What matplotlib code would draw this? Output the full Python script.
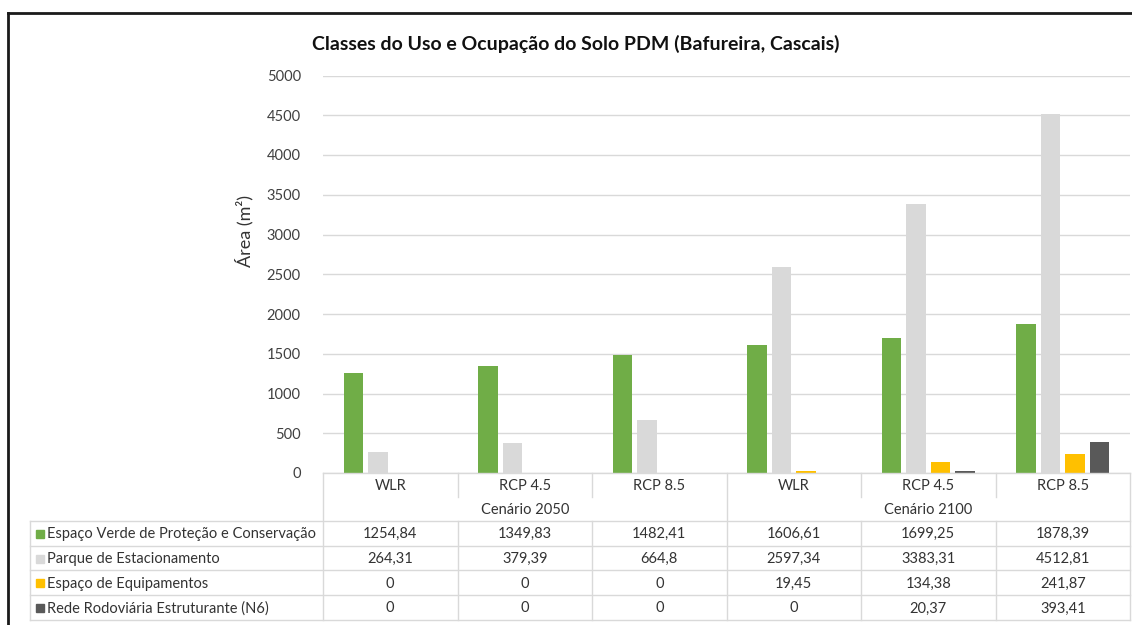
import matplotlib.pyplot as plt
import numpy as np
from matplotlib.lines import Line2D
from matplotlib.patches import Rectangle

plt.rcParams['font.family'] = ['Lato', 'DejaVu Sans']

# data
scenarios = ['WLR', 'RCP 4.5', 'RCP 8.5', 'WLR', 'RCP 4.5', 'RCP 8.5']
groups = ['Cenário 2050', 'Cenário 2100']
series = ['Espaço Verde de Proteção e Conservação', 'Parque de Estacionamento',
          'Espaço de Equipamentos', 'Rede Rodoviária Estruturante (N6)']
verde = [1254.84, 1349.83, 1482.41, 1606.61, 1699.25, 1878.39]
parque = [264.31, 379.39, 664.8, 2597.34, 3383.31, 4512.81]
equip = [0, 0, 0, 19.45, 134.38, 241.87]
rede = [0, 0, 0, 0, 20.37, 393.41]
values = [verde, parque, equip, rede]
colors = ['#70AD47', '#D9D9D9', '#FFC000', '#595959']

W, H = 1132, 625
fig = plt.figure(figsize=(W / 100, H / 100), dpi=100)

# plot area in pixels
x0, x1, ytop, ybot = 323, 1130, 75.5, 473
ax = fig.add_axes([x0 / W, (H - ybot) / H, (x1 - x0) / W, (ybot - ytop) / H])
n = len(scenarios)
x = np.arange(n)
bw, step = 0.145, 0.182
for k, (vals, c) in enumerate(zip(values, colors)):
    ax.bar(x + (k - 1.5) * step, vals, width=bw, color=c, zorder=3)
ax.set_xlim(-0.5, n - 0.5)
ax.set_ylim(0, 5000)
ax.set_yticks(np.arange(0, 5001, 500))
ax.yaxis.grid(True, color='#D9D9D9', lw=1)
ax.set_xticks([])
ax.tick_params(axis='y', length=0, pad=16, labelsize=10.5, labelcolor='#404040')
for s in ['top', 'right', 'left', 'bottom']:
    ax.spines[s].set_visible(False)
ax.set_ylabel('Área (m²)', fontsize=13, color='#333333')
ax.yaxis.set_label_coords(-0.086, 0.61)

fig.text(576 / W, 1 - 44 / H, 'Classes do Uso e Ocupação do Solo PDM (Bafureira, Cascais)',
         ha='center', va='center', fontsize=14, fontweight='bold', color='#111111')

# data table drawn in pixel coordinates
t = fig.add_axes([0, 0, 1, 1], zorder=5)
t.set_xlim(0, W)
t.set_ylim(H, 0)
t.axis('off')
t.patch.set_visible(False)

lc = '#D9D9D9'
tc = '#333333'
cw = (x1 - x0) / n
cols = [x0 + i * cw for i in range(n + 1)]
r_head, r_grp = 497, 521
rh = 24.7
rows = [r_grp + i * rh for i in range(len(series) + 1)]
tleft = 30

def hl(y, xa, xb):
    t.add_line(Line2D([xa, xb], [y, y], color=lc, lw=1))

def vl(xv, ya, yb):
    t.add_line(Line2D([xv, xv], [ya, yb], color=lc, lw=1))

hl(ybot, x0, x1)
for r in rows:
    hl(r, tleft, x1)
for i, cx in enumerate(cols):
    if i in (0, 3, n):
        vl(cx, ybot, rows[-1])
    else:
        vl(cx, ybot, r_head)
        vl(cx, r_grp, rows[-1])
vl(tleft, rows[0], rows[-1])

fs = 10.5
for i, s in enumerate(scenarios):
    t.text((cols[i] + cols[i + 1]) / 2, (ybot + r_head) / 2 + 1, s,
           ha='center', va='center', fontsize=fs, color=tc)
for g, name in enumerate(groups):
    t.text((cols[3 * g] + cols[3 * g + 3]) / 2, (r_head + r_grp) / 2 + 1, name,
           ha='center', va='center', fontsize=fs, color=tc)

def fmt(v):
    return ('%g' % v).replace('.', ',')

for k, (name, vals, c) in enumerate(zip(series, values, colors)):
    yc = (rows[k] + rows[k + 1]) / 2 + 1
    t.add_patch(Rectangle((36, yc - 4.5), 8, 8, color=c))
    t.text(47, yc, name, ha='left', va='center', fontsize=fs, color=tc)
    for i, v in enumerate(vals):
        t.text((cols[i] + cols[i + 1]) / 2, yc, fmt(v),
               ha='center', va='center', fontsize=fs, color=tc)

# outer frame (top and left edges visible)
t.add_line(Line2D([8, W], [13, 13], color='#1a1a1a', lw=2))
t.add_line(Line2D([8, 8], [13, H], color='#1a1a1a', lw=2))

fig.savefig('out.png', dpi=100)
